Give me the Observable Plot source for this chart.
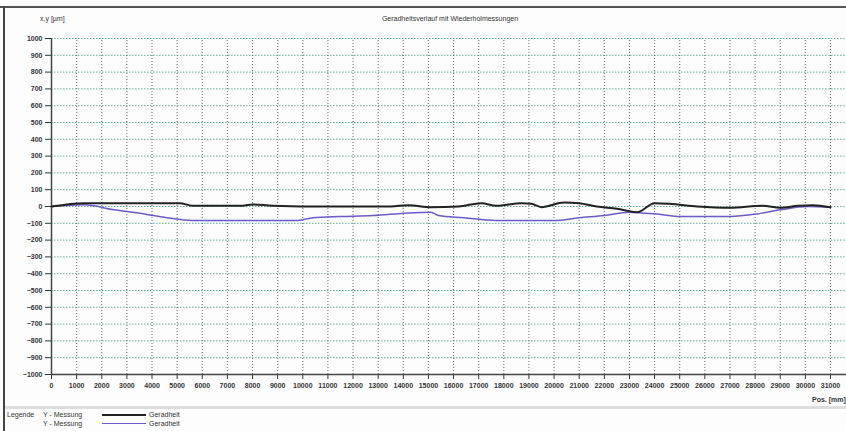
<!DOCTYPE html>
<html><head><meta charset="utf-8">
<script src="https://cdn.jsdelivr.net/npm/d3@7"></script>
<script src="https://cdn.jsdelivr.net/npm/@observablehq/plot@0.6"></script>
<style>
body{margin:0;background:#fdfdfd;font-family:"Liberation Sans",Arial,sans-serif;}
#wrap{position:relative;width:846px;height:431px;overflow:hidden;background:#fdfdfd;}
.t{position:absolute;font-size:7px;color:#333;white-space:nowrap;line-height:8px;}
</style></head>
<body><div id="wrap"></div>
<script>
const title = "Geradheitsverlauf mit Wiederholmessungen";
const yLabel = "x,y [µm]";
const xLabel = "Pos. [mm]";
const xTicks = d3.range(0, 31001, 1000);
const yTicks = d3.range(-1000, 1001, 100);

const blackPos = [0, 1300, 3000, 5100, 5600, 7600, 8000, 8800, 11000, 13500, 14200, 15100, 16200, 17100, 17700, 18700, 19100, 19500, 20400, 21000, 21700, 22500, 23300, 24000, 24600, 25700, 27000, 28300, 29000, 29700, 30300, 31000];
const blackVal = [0, 20, 20, 20, 5, 5, 12, 5, 0, 0, 8, -4, 0, 20, 4, 20, 16, -4, 24, 20, 0, -14, -34, 20, 16, 0, -8, 4, -8, 4, 8, -4];
const bluePos = [0, 1300, 2500, 3500, 4600, 5600, 9800, 10400, 11500, 12800, 14200, 15100, 15400, 16400, 17700, 20000, 21000, 22000, 23000, 23600, 24100, 25000, 27000, 28100, 29000, 30100, 31000];
const blueVal = [0, 10, -20, -40, -67, -83, -83, -67, -60, -54, -38, -34, -54, -67, -83, -83, -67, -54, -34, -40, -44, -60, -60, -44, -20, 0, -4];

const legendRows = [
  {name: "Y - Messung", color: "#222", label: "Geradheit"},
  {name: "Y - Messung", color: "#6a5cc8", label: "Geradheit"}
];

const black = blackPos.map((p, i) => ({p, v: blackVal[i]}));
const blue = bluePos.map((p, i) => ({p, v: blueVal[i]}));

const chart = Plot.plot({
  width: 846, height: 405,
  marginLeft: 51, marginRight: 0, marginTop: 38, marginBottom: 31,
  style: {background: "transparent", fontFamily: "Liberation Sans, Arial, sans-serif", fontSize: "7px", color: "#333"},
  x: {domain: [0, 31637], axis: null},
  y: {domain: [-1000, 1000], axis: null},
  marks: [
    Plot.ruleY(yTicks, {stroke: "#5fae9c", strokeDasharray: "1.5,1.5", strokeWidth: 1}),
    Plot.ruleX(xTicks.slice(1), {y1: -1000, y2: 1000, stroke: "#666", strokeDasharray: "1,2", strokeWidth: 1}),
    Plot.axisY({ticks: yTicks, tickFormat: d3.format("d"), tickSize: 6, tickPadding: 3, label: null, fontWeight: "bold", stroke: "#333"}),
    Plot.axisX({ticks: xTicks, tickFormat: d3.format("d"), tickSize: 5, tickPadding: 4, label: null, fontWeight: "bold", stroke: "#333"}),
    Plot.ruleX([0], {y1: -1000, y2: 1000, stroke: "#444", strokeWidth: 1.5}),
    Plot.ruleY([-1000], {stroke: "#444", strokeWidth: 1.5}),
    Plot.line(blue, {x: "p", y: "v", stroke: "#6a5cc8", strokeWidth: 1.5, curve: "monotone-x"}),
    Plot.line(black, {x: "p", y: "v", stroke: "#222", strokeWidth: 2, curve: "monotone-x"})
  ]
});
const wrap = document.getElementById("wrap");
chart.style.position = "absolute";
chart.style.left = "0px";
chart.style.top = "0px";
wrap.appendChild(chart);

function addText(txt, x, y, extra) {
  const d = document.createElement("div");
  d.className = "t";
  d.textContent = txt;
  d.style.left = x + "px";
  d.style.top = y + "px";
  if (extra) Object.assign(d.style, extra);
  wrap.appendChild(d);
  return d;
}
function addBox(x, y, w, h, color) {
  const d = document.createElement("div");
  Object.assign(d.style, {position: "absolute", left: x + "px", top: y + "px", width: w + "px", height: h + "px", background: color});
  wrap.appendChild(d);
}
// frame
addBox(0, 6, 846, 2, "#555");
addBox(3, 6, 2, 425, "#444");
addBox(5, 406, 841, 3, "#ddd");
addText(title, 380, 15, {width: "140px", textAlign: "center"});
addText(yLabel, 40, 15);
addText(xLabel, 812, 396, {fontWeight: "bold"});
addText("Legende", 7, 411);
legendRows.forEach((r, i) => {
  const y = 411 + i * 9;
  addText(r.name, 43, y);
  addBox(102, y + 3, 44, r.color === "#222" ? 2 : 1, r.color);
  addText(r.label, 149, y);
});
</script></body></html>
